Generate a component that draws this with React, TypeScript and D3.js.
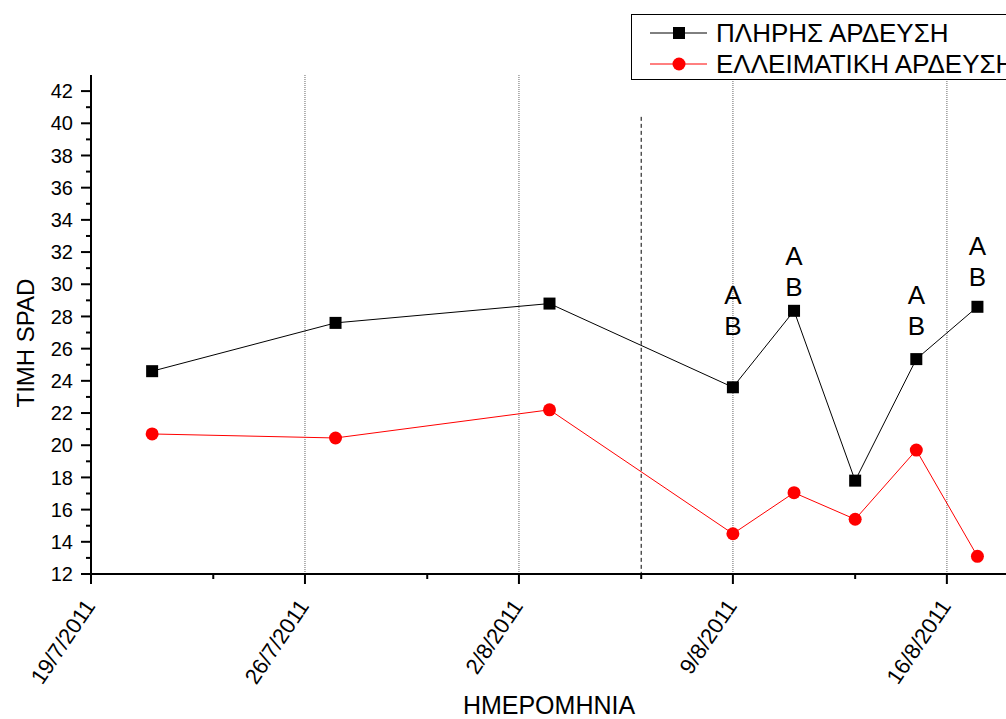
import React from "react";
import * as d3 from "d3";

// measurement dates and SPAD values
const dates = ["21/7/2011", "27/7/2011", "3/8/2011", "9/8/2011", "11/8/2011", "13/8/2011", "15/8/2011", "17/8/2011"];
const fullIrrigation = [24.6, 27.6, 28.8, 23.6, 28.35, 17.8, 25.35, 28.6];
const deficitIrrigation = [20.7, 20.45, 22.2, 14.5, 17.05, 15.4, 19.7, 13.1];

const majorTicks = ["19/7/2011", "26/7/2011", "2/8/2011", "9/8/2011", "16/8/2011"];
const minorTicks = ["23/7/2011", "30/7/2011", "6/8/2011", "13/8/2011"];
const gridDates = ["26/7/2011", "2/8/2011", "9/8/2011", "16/8/2011"];
const dividerDate = "6/8/2011";
const dividerTop = 40.4;

// significance letters (date, value at the "A")
const letterDates = ["9/8/2011", "11/8/2011", "15/8/2011", "17/8/2011"];
const letterValues = [29.35, 31.8, 29.35, 32.4];

const seriesNames = ["ΠΛΗΡΗΣ ΑΡΔΕΥΣΗ", "ΕΛΛΕΙΜΑΤΙΚΗ ΑΡΔΕΥΣΗ"];
const yMajor = d3.range(12, 43, 2);
const yMinor = d3.range(13, 43, 2);

const W = 1006;
const H = 719;
const font = "Arial, 'Liberation Sans', sans-serif";
const parse = d3.timeParse("%d/%m/%Y");

export default function App() {
  const x = d3
    .scaleTime()
    .domain([parse("19/7/2011") as Date, parse("18/8/2011") as Date])
    .range([91, 1008]);
  const y = d3.scaleLinear().domain([12, 43]).range([574, 75]);

  const xd = (s: string) => x(parse(s) as Date);
  const line = d3
    .line<number>()
    .x((_, i) => xd(dates[i]))
    .y(v => y(v));

  return (
    <svg
      width={W}
      height={H}
      style={{ position: "absolute", left: 0, top: 0, background: "#fff" }}
      fontFamily={font}
    >
      {/* vertical dotted grid */}
      {gridDates.map(d => (
        <line
          key={d}
          x1={xd(d)}
          x2={xd(d)}
          y1={y(43)}
          y2={y(12)}
          stroke="#999"
          strokeWidth={1.5}
          strokeDasharray="1 1"
        />
      ))}
      <line
        x1={xd(dividerDate)}
        x2={xd(dividerDate)}
        y1={y(dividerTop)}
        y2={y(12)}
        stroke="#000"
        strokeWidth={1}
        strokeDasharray="4 3"
      />

      {/* axes */}
      <line x1={91} x2={91} y1={y(43)} y2={y(12)} stroke="#000" strokeWidth={2} />
      <line x1={90} x2={1010} y1={y(12)} y2={y(12)} stroke="#000" strokeWidth={2} />
      {yMajor.map(v => (
        <g key={v}>
          <line x1={81} x2={91} y1={y(v)} y2={y(v)} stroke="#000" strokeWidth={2} />
          <text x={73} y={y(v)} dy="0.36em" textAnchor="end" fontSize={20}>
            {v}
          </text>
        </g>
      ))}
      {yMinor.map(v => (
        <line key={v} x1={86} x2={91} y1={y(v)} y2={y(v)} stroke="#000" strokeWidth={2} />
      ))}
      {majorTicks.map(d => (
        <g key={d}>
          <line x1={xd(d)} x2={xd(d)} y1={y(12)} y2={y(12) + 10} stroke="#000" strokeWidth={2} />
          <text
            transform={`translate(${xd(d) + 5},${y(12) + 32}) rotate(-56)`}
            textAnchor="end"
            fontSize={22}
          >
            {d}
          </text>
        </g>
      ))}
      {minorTicks.map(d => (
        <line key={d} x1={xd(d)} x2={xd(d)} y1={y(12)} y2={y(12) + 5} stroke="#000" strokeWidth={2} />
      ))}

      <text transform="translate(34,343) rotate(-90)" textAnchor="middle" fontSize={24}>
        TIMH SPAD
      </text>
      <text x={549} y={714} textAnchor="middle" fontSize={25}>
        HMEPOMHNIA
      </text>

      {/* series */}
      <path d={line(fullIrrigation) ?? ""} fill="none" stroke="#000" strokeWidth={1} />
      <path d={line(deficitIrrigation) ?? ""} fill="none" stroke="#ff0000" strokeWidth={1} />
      {fullIrrigation.map((v, i) => (
        <rect key={i} x={xd(dates[i]) - 6} y={y(v) - 6} width={12} height={12} fill="#000" />
      ))}
      {deficitIrrigation.map((v, i) => (
        <circle key={i} cx={xd(dates[i])} cy={y(v)} r={6.5} fill="#ff0000" />
      ))}

      {/* letters */}
      {letterDates.map((d, i) => (
        <g key={d} fontSize={26} textAnchor="middle">
          <text x={xd(d)} y={y(letterValues[i])} dy="0.36em">
            A
          </text>
          <text x={xd(d)} y={y(letterValues[i]) + 31} dy="0.36em">
            B
          </text>
        </g>
      ))}

      {/* legend */}
      <rect x={631.5} y={14.5} width={420} height={65} fill="#fff" stroke="#000" strokeWidth={1} />
      {seriesNames.map((name, i) => {
        const ly = 33 + i * 31;
        return (
          <g key={name}>
            <line x1={650} x2={707} y1={ly} y2={ly} stroke={i === 0 ? "#000" : "#ff0000"} strokeWidth={1} />
            {i === 0 ? (
              <rect x={673} y={ly - 6} width={12} height={12} fill="#000" />
            ) : (
              <circle cx={679} cy={ly} r={6.5} fill="#ff0000" />
            )}
            <text x={716} y={ly} dy="0.36em" fontSize={26}>
              {name}
            </text>
          </g>
        );
      })}
    </svg>
  );
}
